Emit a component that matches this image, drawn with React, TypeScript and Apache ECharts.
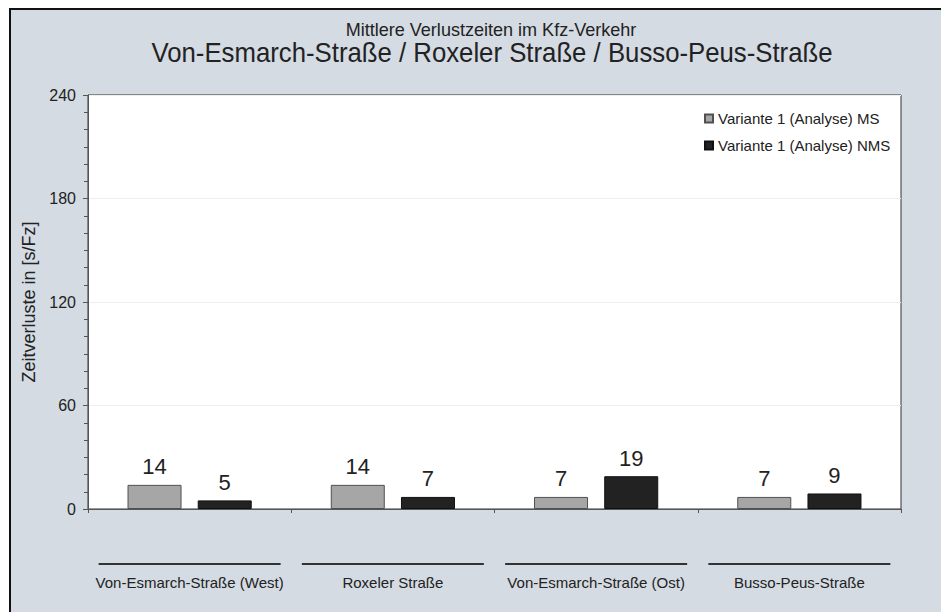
import React, { useEffect, useRef } from "react";
import * as echarts from "echarts";

const titleMain = "Mittlere Verlustzeiten im Kfz-Verkehr";
const titleSub = "Von-Esmarch-Straße / Roxeler Straße / Busso-Peus-Straße";
const categories = [
  "Von-Esmarch-Straße (West)",
  "Roxeler Straße",
  "Von-Esmarch-Straße (Ost)",
  "Busso-Peus-Straße",
];
const seriesNames = ["Variante 1 (Analyse) MS", "Variante 1 (Analyse) NMS"];
const valuesMS = [14, 14, 7, 7];
const valuesNMS = [5, 7, 19, 9];
const yTicks = [0, 60, 120, 180, 240];
const yName = "Zeitverluste in [s/Fz]";

export default function App() {
  const ref = useRef<HTMLDivElement>(null);
  useEffect(() => {
    if (!ref.current) return;
    const chart = echarts.init(ref.current, undefined, { renderer: "svg" });
    const font = "Liberation Sans, Arial, sans-serif";
    chart.setOption({
      animation: false,
      backgroundColor: "transparent",
      textStyle: { fontFamily: font },
      graphic: {
        elements: [
          {
            type: "text",
            x: 491,
            y: 29.5,
            scaleX: 0.95,
            style: {
              text: titleMain,
              align: "center",
              verticalAlign: "middle",
              fontSize: 19,
              fontFamily: font,
              fill: "#222",
            },
          },
          {
            type: "text",
            x: 492,
            y: 53,
            scaleX: 0.92,
            style: {
              text: titleSub,
              align: "center",
              verticalAlign: "middle",
              fontSize: 28,
              fontFamily: font,
              fill: "#222",
            },
          },
        ],
      },
      legend: {
        orient: "vertical",
        left: 699,
        top: 106,
        itemWidth: 8,
        itemHeight: 8,
        itemGap: 12,
        icon: "rect",
        textStyle: { fontSize: 15, color: "#222", fontFamily: font },
        data: seriesNames,
      },
      grid: {
        left: 88,
        right: 40,
        top: 95,
        bottom: 103,
        show: true,
        backgroundColor: "#ffffff",
        borderColor: "#333",
        borderWidth: 1,
      },
      xAxis: {
        type: "category",
        data: categories,
        axisLine: { lineStyle: { color: "#555", width: 1 } },
        axisTick: { show: true, length: 4, lineStyle: { color: "#555" } },
        axisLabel: {
          interval: 0,
          margin: 54,
          formatter: (v: string) => `{line|}\n{name|${v}}`,
          rich: {
            line: { width: 182, height: 2, backgroundColor: "#333" },
            name: { fontSize: 15, lineHeight: 34, color: "#222", fontFamily: font },
          },
        },
      },
      yAxis: {
        type: "value",
        min: yTicks[0],
        max: yTicks[yTicks.length - 1],
        interval: 60,
        name: yName,
        nameLocation: "middle",
        nameGap: 48,
        nameTextStyle: { fontSize: 18, color: "#222", fontFamily: font },
        axisLine: { show: true, lineStyle: { color: "#555" } },
        axisTick: { show: true, length: 5, lineStyle: { color: "#555" } },
        minorTick: { show: true, splitNumber: 6, length: 4, lineStyle: { color: "#555" } },
        axisLabel: { fontSize: 16, color: "#222", margin: 12, fontFamily: font },
        splitLine: { show: true, lineStyle: { color: "#eeeeee", width: 1 } },
      },
      series: [
        {
          name: seriesNames[0],
          type: "bar",
          data: valuesMS,
          barWidth: 54,
          barGap: "30%",
          itemStyle: { color: "#a6a6a6", borderColor: "#505050", borderWidth: 1 },
          label: { show: true, position: "top", distance: 7, fontSize: 22, color: "#222", fontFamily: font },
        },
        {
          name: seriesNames[1],
          type: "bar",
          data: valuesNMS,
          barWidth: 54,
          barGap: "30%",
          itemStyle: { color: "#222222", borderColor: "#111", borderWidth: 1 },
          label: { show: true, position: "top", distance: 7, fontSize: 22, color: "#222", fontFamily: font },
        },
      ],
    });
    return () => chart.dispose();
  }, []);
  return (
    <div style={{ position: "fixed", left: 0, top: 0, width: 941, height: 612, background: "#ffffff" }}>
      <div
        style={{
          position: "absolute",
          left: 9,
          top: 8,
          width: 932,
          height: 604,
          boxSizing: "border-box",
          borderLeft: "2px solid #111",
          borderTop: "2px solid #111",
          background: "#d4dbe3",
        }}
      />
      <div ref={ref} style={{ position: "absolute", left: 0, top: 0, width: 941, height: 612 }} />
    </div>
  );
}
